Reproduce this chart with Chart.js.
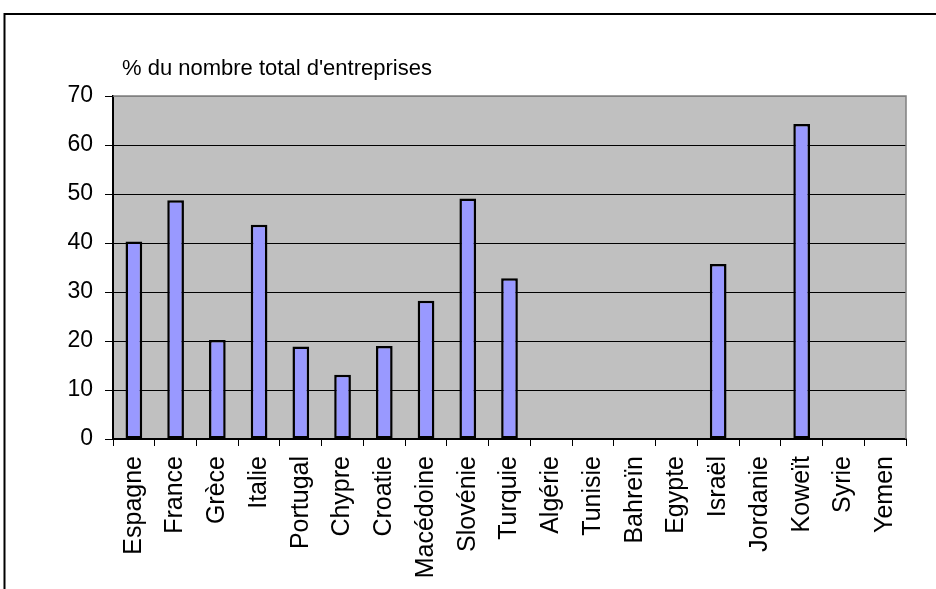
<!DOCTYPE html>
<html>
<head>
<meta charset="utf-8">
<script src="https://cdn.jsdelivr.net/npm/chart.js@4/dist/chart.umd.min.js"></script>
<style>
html,body{margin:0;padding:0;background:#fff;}
#wrap{width:936px;height:589px;position:relative;}
</style>
</head>
<body>
<div id="wrap"><canvas id="c" width="936" height="589"></canvas></div>
<script>
const categories = ["Espagne","France","Grèce","Italie","Portugal","Chypre","Croatie","Macédoine","Slovénie","Turquie","Algérie","Tunisie","Bahreïn","Egypte","Israël","Jordanie","Koweït","Syrie","Yemen"];
const values = [40.3, 48.7, 20.2, 43.7, 18.9, 13.1, 19.0, 28.2, 49.1, 32.8, null, null, null, null, 35.7, null, 64.3, null, null];
const yTicks = [0, 10, 20, 30, 40, 50, 60, 70];
const axisTitle = "% du nombre total d'entreprises";

const FONT = "Arial, 'Liberation Sans', sans-serif";

const decor = {
  id: 'decor',
  beforeDraw(chart) {
    const {ctx, chartArea: a} = chart;
    ctx.save();
    ctx.fillStyle = '#fff';
    ctx.fillRect(0, 0, chart.width, chart.height);
    ctx.strokeStyle = '#000';
    ctx.lineWidth = 2;
    ctx.strokeRect(4.5, 14, 960, 620);
    ctx.fillStyle = '#C0C0C0';
    ctx.fillRect(a.left, a.top, a.right - a.left, a.bottom - a.top);
    ctx.restore();
  },
  afterDraw(chart) {
    const {ctx, chartArea: a} = chart;
    ctx.save();
    ctx.strokeStyle = '#808080';
    ctx.lineWidth = 1.5;
    ctx.beginPath();
    ctx.moveTo(a.left, a.top);
    ctx.lineTo(a.right, a.top);
    ctx.lineTo(a.right, a.bottom);
    ctx.stroke();
    ctx.fillStyle = '#000';
    ctx.font = '22px ' + FONT;
    ctx.textBaseline = 'alphabetic';
    ctx.textAlign = 'left';
    ctx.fillText(axisTitle, 122, 75);
    ctx.restore();
  }
};

new Chart(document.getElementById('c'), {
  type: 'bar',
  data: {
    labels: categories,
    datasets: [{
      data: values,
      backgroundColor: '#9999FF',
      borderColor: '#000',
      borderWidth: 2.5,
      borderSkipped: false,
      barPercentage: 0.40,
      categoryPercentage: 1.0
    }]
  },
  options: {
    responsive: false,
    animation: false,
    devicePixelRatio: 1,
    layout: { padding: { left: 0, right: 30, top: 96, bottom: 0 } },
    plugins: { legend: { display: false }, title: { display: false }, tooltip: { enabled: false } },
    scales: {
      x: {
        afterFit(scale) { scale.height = 150; },
        grid: { display: true, offset: true, drawOnChartArea: false, drawTicks: true, tickLength: 7, color: '#000', lineWidth: 1 },
        border: { display: true, color: '#000', width: 2 },
        ticks: {
          autoSkip: false, maxRotation: 90, minRotation: 90, padding: 10,
          color: '#000', font: { family: FONT, size: 25 }
        }
      },
      y: {
        min: 0, max: 70,
        afterFit(scale) { scale.width = 113; },
        afterBuildTicks(scale) { scale.ticks = yTicks.map(v => ({ value: v })); },
        grid: {
          color: ctx => (ctx.tick && ctx.tick.value === 70) ? '#808080' : '#000',
          tickColor: '#000',
          lineWidth: 1, drawTicks: true, tickLength: 8
        },
        border: { display: true, color: '#000', width: 2 },
        ticks: {
          padding: 12, color: '#000', font: { family: FONT, size: 23 }
        }
      }
    }
  },
  plugins: [decor]
});
</script>
</body>
</html>
